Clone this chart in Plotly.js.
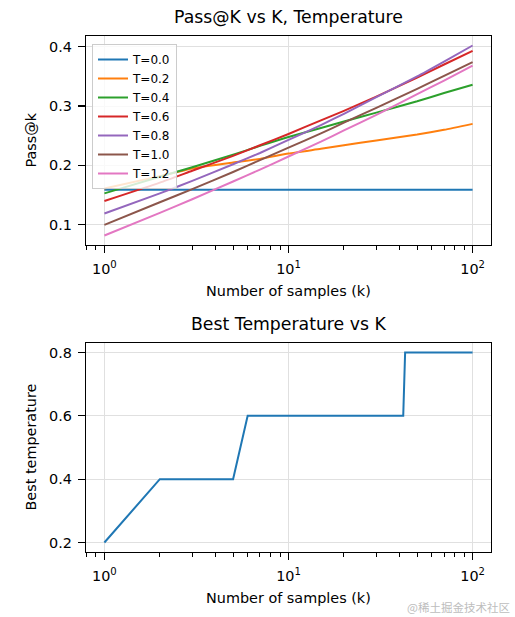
<!DOCTYPE html>
<html>
<head>
<meta charset="utf-8">
<script src="https://cdn.plot.ly/plotly-3.0.1.min.js"></script>
<style>
  html, body { margin: 0; padding: 0; background: #ffffff; }
  #chart { width: 515px; height: 617px; }
</style>
</head>
<body>
<div id="chart"></div>
<script>
// ---- data ----
const ks = [1, 2, 3, 5, 7, 10, 15, 20, 30, 50, 70, 100];
const temperatureLabels = ["T=0.0", "T=0.2", "T=0.4", "T=0.6", "T=0.8", "T=1.0", "T=1.2"];
const passT00 = [0.159, 0.159, 0.159, 0.159, 0.159, 0.159, 0.159, 0.159, 0.159, 0.159, 0.159, 0.159];
const passT02 = [0.161, 0.182, 0.195, 0.205, 0.211, 0.220, 0.228, 0.234, 0.242, 0.252, 0.260, 0.270];
const passT04 = [0.153, 0.181, 0.197, 0.218, 0.233, 0.248, 0.263, 0.274, 0.289, 0.308, 0.322, 0.336];
const passT06 = [0.140, 0.171, 0.191, 0.216, 0.234, 0.253, 0.276, 0.292, 0.316, 0.348, 0.370, 0.393];
const passT08 = [0.119, 0.153, 0.174, 0.202, 0.221, 0.243, 0.268, 0.287, 0.315, 0.350, 0.375, 0.402];
const passT10 = [0.100, 0.138, 0.160, 0.189, 0.209, 0.230, 0.254, 0.272, 0.297, 0.329, 0.351, 0.374];
const passT12 = [0.082, 0.120, 0.143, 0.173, 0.193, 0.215, 0.240, 0.259, 0.285, 0.320, 0.343, 0.368];

const bestK = [1, 2, 5, 6, 42, 43, 100];
const bestTemp = [0.2, 0.4, 0.4, 0.6, 0.6, 0.8, 0.8];

const xTickVals = [1, 10, 100];
const xTickText = ["10<sup>0</sup>", "10<sup>1</sup>", "10<sup>2</sup>"];
const xMinorVals = [0.8, 0.9, 2, 3, 4, 5, 6, 7, 8, 9, 20, 30, 40, 50, 60, 70, 80, 90];

// ---- styling ----
const colors = ["#1f77b4", "#ff7f0e", "#2ca02c", "#d62728", "#9467bd", "#8c564b", "#e377c2"];
const seriesList = [passT00, passT02, passT04, passT06, passT08, passT10, passT12];
const FONT = "DejaVu Sans, Liberation Sans, sans-serif";
const W = 515, H = 617;
const px = v => v / W;
const py = v => 1 - v / H;

const traces = seriesList.map((ys, i) => ({
  x: ks, y: ys, type: "scatter", mode: "lines",
  name: temperatureLabels[i],
  line: { color: colors[i], width: 2, shape: "spline", smoothing: 0.5 },
  xaxis: "x", yaxis: "y", showlegend: true
}));
traces.push({
  x: bestK, y: bestTemp, type: "scatter", mode: "lines",
  name: "best", line: { color: colors[0], width: 2 },
  xaxis: "x2", yaxis: "y2", showlegend: false
});

function xAxis(anchor) {
  return {
    type: "log", range: [-0.1, 2.1], domain: [px(86), px(491)], anchor: anchor,
    tickmode: "array", tickvals: xTickVals, ticktext: xTickText,
    ticks: "outside", ticklen: 7, tickwidth: 1.2, tickcolor: "#000",
    ticklabelstandoff: 4,
    minor: { tickmode: "array", tickvals: xMinorVals, ticks: "outside", ticklen: 4, tickwidth: 1, tickcolor: "#000", showgrid: false },
    showline: true, mirror: true, linecolor: "#000", linewidth: 1.2,
    showgrid: true, gridcolor: "#e0e0e0", gridwidth: 1,
    zeroline: false,
    tickfont: { family: FONT, size: 14.4, color: "#000" }
  };
}
function yAxis(domain, range, dtick, anchor) {
  return {
    domain: domain, range: range, anchor: anchor,
    tickmode: "linear", tick0: 0, dtick: dtick, tickformat: ".1f",
    ticks: "outside", ticklen: 7, tickwidth: 1.2, tickcolor: "#000",
    ticklabelstandoff: 3,
    showline: true, mirror: true, linecolor: "#000", linewidth: 1.2,
    showgrid: true, gridcolor: "#e0e0e0", gridwidth: 1,
    zeroline: false,
    tickfont: { family: FONT, size: 14.4, color: "#000" }
  };
}

const layout = {
  width: W, height: H,
  margin: { l: 0, r: 0, t: 0, b: 0 },
  paper_bgcolor: "#ffffff", plot_bgcolor: "#ffffff",
  font: { family: FONT, color: "#000" },
  title: {
    text: "Pass@K vs K, Temperature",
    xref: "container", yref: "container",
    x: px(288.5), xanchor: "center", y: py(17), yanchor: "middle",
    font: { family: FONT, size: 17.3, color: "#000" }
  },
  xaxis: xAxis("y"),
  yaxis: yAxis([py(245), py(36)], [0.066, 0.418], 0.1, "x"),
  xaxis2: xAxis("y2"),
  yaxis2: yAxis([py(552), py(343)], [0.17, 0.83], 0.2, "x2"),
  legend: {
    x: px(92), y: py(44), xanchor: "left", yanchor: "top",
    bgcolor: "rgba(255,255,255,0.8)", bordercolor: "#cccccc", borderwidth: 1,
    font: { family: FONT, size: 12, color: "#000" },
    tracegroupgap: 0
  },
  showlegend: true,
  hovermode: false,
  annotations: [
    { text: "Number of samples (k)", xref: "paper", yref: "paper", x: px(288.5), y: py(291), xanchor: "center", yanchor: "middle", showarrow: false, font: { family: FONT, size: 14.4, color: "#000" } },
    { text: "Pass@k", xref: "paper", yref: "paper", x: px(30), y: py(140.5), xanchor: "center", yanchor: "middle", textangle: -90, showarrow: false, font: { family: FONT, size: 14.4, color: "#000" } },
    { text: "Best Temperature vs K", xref: "paper", yref: "paper", x: px(288.5), y: py(323.5), xanchor: "center", yanchor: "middle", showarrow: false, font: { family: FONT, size: 17.3, color: "#000" } },
    { text: "Number of samples (k)", xref: "paper", yref: "paper", x: px(288.5), y: py(598), xanchor: "center", yanchor: "middle", showarrow: false, font: { family: FONT, size: 14.4, color: "#000" } },
    { text: "Best temperature", xref: "paper", yref: "paper", x: px(30), y: py(447.5), xanchor: "center", yanchor: "middle", textangle: -90, showarrow: false, font: { family: FONT, size: 14.4, color: "#000" } },
    { text: "@稀土掘金技术社区", xref: "paper", yref: "paper", x: px(512), y: py(607), xanchor: "right", yanchor: "middle", showarrow: false, font: { family: "Noto Sans CJK SC, sans-serif", size: 11.5, color: "#bdbdbd" } }
  ]
};

Plotly.newPlot("chart", traces, layout, { staticPlot: true, displayModeBar: false });
</script>
</body>
</html>
